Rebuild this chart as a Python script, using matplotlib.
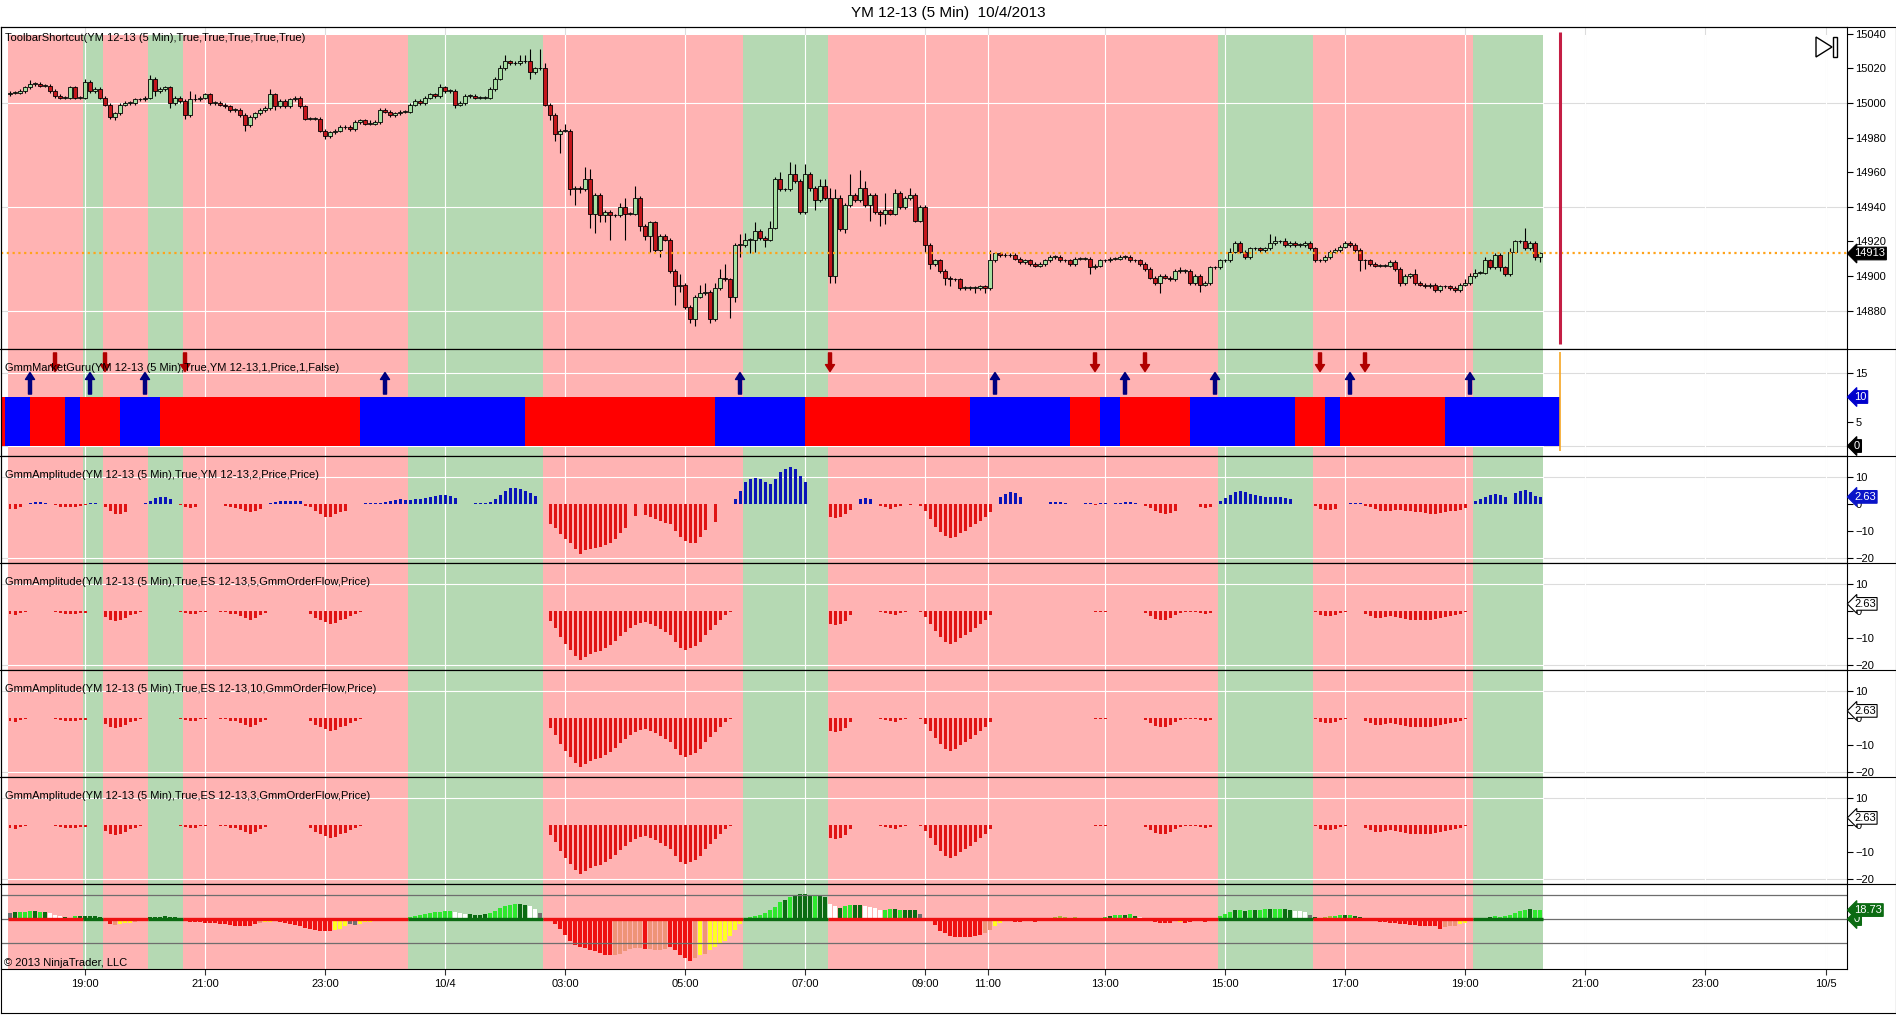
import numpy as np
import matplotlib
matplotlib.use("Agg")
import matplotlib.pyplot as plt
from matplotlib.patches import Polygon, Rectangle
from matplotlib.lines import Line2D
import matplotlib.transforms as mtransforms

plt.rcParams['font.family'] = ['Liberation Sans', 'DejaVu Sans']
plt.rcParams['font.size'] = 8

W, H = 1896, 1015
FIRST = -15          # bar index of first candle (bar 0 = 19:00 on 10/3)

# ---- YM 12-13 5 min closes, one per bar ----
closes = [
    15006, 15006, 15007, 15009, 15011, 15011, 15010, 15010, 15007, 15004,   # -15
    15003, 15003, 15009, 15003, 15003, 15012, 15007, 15008, 15003, 14999,   # -5
    14992, 14994, 14999, 15000, 15000, 15002, 15002, 15003, 15014, 15007,   # 5
    15008, 15009, 15000, 15003, 15001, 14993, 15002, 15002, 15003, 15005,   # 15
    15000, 15000, 14999, 14998, 14996, 14996, 14993, 14987, 14992, 14994,   # 25
    14996, 14997, 15005, 14998, 15001, 14998, 15002, 15003, 14998, 14991,   # 35
    14991, 14991, 14984, 14981, 14983, 14984, 14986, 14986, 14985, 14989,   # 45
    14990, 14988, 14988, 14989, 14996, 14995, 14993, 14994, 14995, 14995,   # 55
    14999, 15001, 15000, 15003, 15005, 15004, 15009, 15007, 15007, 14999,   # 65
    15000, 15004, 15004, 15003, 15003, 15003, 15008, 15014, 15020, 15024,   # 75
    15023, 15023, 15024, 15024, 15018, 15020, 15020, 14999, 14993, 14982,   # 85
    14984, 14984, 14950, 14951, 14950, 14956, 14936, 14947, 14935, 14937,   # 95
    14935, 14935, 14940, 14936, 14936, 14945, 14929, 14923, 14931, 14915,   # 105
    14923, 14921, 14903, 14894, 14895, 14882, 14875, 14888, 14890, 14891,   # 115
    14875, 14893, 14899, 14898, 14888, 14918, 14918, 14921, 14921, 14926,   # 125
    14922, 14921, 14928, 14956, 14950, 14950, 14959, 14955, 14937, 14959,   # 135
    14951, 14944, 14952, 14945, 14900, 14945, 14927, 14941, 14947, 14944,   # 145
    14951, 14941, 14947, 14937, 14936, 14938, 14936, 14948, 14940, 14945,   # 155
    14947, 14932, 14940, 14918, 14907, 14909, 14903, 14899, 14898, 14898,   # 165
    14893, 14893, 14893, 14893, 14894, 14893, 14909, 14913, 14912, 14912,   # 175
    14912, 14910, 14908, 14909, 14907, 14906, 14907, 14909, 14911, 14911,   # 185
    14909, 14909, 14907, 14910, 14910, 14910, 14905, 14906, 14909, 14909,   # 195
    14910, 14910, 14911, 14911, 14909, 14909, 14907, 14904, 14899, 14896,   # 205
    14900, 14899, 14898, 14903, 14903, 14903, 14896, 14900, 14895, 14896,   # 215
    14905, 14905, 14909, 14909, 14914, 14919, 14914, 14911, 14916, 14916,   # 225
    14915, 14916, 14919, 14920, 14920, 14918, 14919, 14918, 14918, 14919,   # 235
    14916, 14909, 14909, 14911, 14914, 14915, 14917, 14919, 14918, 14915,   # 245
    14909, 14909, 14907, 14906, 14906, 14906, 14908, 14904, 14896, 14900,   # 255
    14901, 14896, 14895, 14894, 14895, 14892, 14894, 14894, 14893, 14892,   # 265
    14895, 14896, 14900, 14902, 14902, 14909, 14905, 14912, 14905, 14901,   # 275
    14914, 14920, 14920, 14916, 14919, 14911, 14913,                        # 285
]
first_open = 15005
# wick length above / below the body, in points
wick_hi = [
    1, 1, 1, 1, 2, 1, 1, 1, 1, 1,  1, 1, 1, 1, 1, 2, 1, 1, 1, 1,
    1, 1, 1, 1, 1, 1, 1, 1, 2, 1,  1, 1, 1, 1, 1, 1, 5, 3, 1, 1,
    1, 1, 1, 1, 1, 1, 1, 1, 1, 1,  1, 1, 3, 1, 1, 1, 1, 1, 1, 1,
    1, 1, 1, 1, 1, 1, 1, 1, 1, 1,  1, 1, 2, 1, 1, 1, 1, 1, 1, 1,
    1, 1, 1, 1, 1, 1, 2, 1, 1, 1,  1, 1, 1, 1, 1, 1, 1, 1, 2, 4,
    1, 1, 4, 4, 7, 1, 11, 3, 1, 1, 1, 4, 1, 1, 1, 7, 6, 1, 1, 1,
    1, 1, 2, 5, 1, 7, 1, 1, 1, 1,  1, 1, 1, 1, 6, 1, 1, 1, 5, 5,
    1, 3, 5, 8, 1, 1, 6, 4, 1, 5,  1, 1, 4, 1, 4, 1, 7, 6, 1, 6,
    1, 1, 4, 4, 6, 5, 2, 1, 12, 1, 10, 4, 1, 1, 1, 10, 1, 2, 1, 1,
    4, 1, 1, 1, 1, 1, 1, 1, 1, 1,  1, 1, 1, 1, 1, 1, 6, 1, 1, 1,
    1, 1, 1, 1, 1, 1, 1, 1, 1, 1,  1, 1, 1, 1, 1, 1, 1, 1, 1, 1,
    1, 1, 1, 1, 1, 1, 1, 1, 1, 1,  1, 1, 1, 1, 2, 1, 1, 1, 1, 1,
    1, 1, 1, 1, 2, 1, 1, 1, 1, 1,  1, 1, 5, 3, 1, 2, 1, 1, 1, 1,
    1, 1, 1, 1, 1, 1, 1, 1, 1, 1,  1, 1, 1, 1, 1, 1, 1, 1, 1, 1,
    1, 3, 1, 1, 1, 1, 1, 1, 1, 1,  1, 2, 2, 2, 1, 2, 1, 1, 1, 1,
    2, 1, 1, 8, 1, 1, 1,
]
wick_lo = [
    1, 1, 1, 1, 1, 1, 1, 1, 1, 1,  1, 1, 1, 1, 1, 1, 1, 1, 1, 1,
    1, 2, 1, 1, 1, 1, 1, 1, 1, 3,  1, 1, 3, 1, 1, 2, 1, 1, 1, 1,
    1, 1, 1, 1, 1, 1, 1, 3, 1, 1,  1, 1, 1, 2, 1, 1, 1, 1, 1, 1,
    1, 1, 1, 2, 1, 1, 1, 1, 1, 1,  1, 1, 1, 1, 1, 1, 1, 1, 1, 1,
    1, 1, 1, 1, 1, 1, 1, 1, 1, 2,  1, 1, 1, 1, 1, 1, 1, 1, 1, 1,
    1, 1, 1, 1, 4, 1, 1, 1, 3, 4,  11, 1, 3, 9, 2, 1, 8, 11, 4, 4,
    14, 1, 1, 15, 1, 1, 3, 2, 9, 2, 4, 1, 1, 11, 3, 1, 2, 4, 1, 1,
    2, 1, 1, 1, 12, 3, 7, 1, 8, 7, 1, 4, 1, 1, 1, 1, 1, 1, 1, 1,
    2, 6, 1, 1, 4, 4, 1, 2, 1, 1,  1, 1, 9, 1, 7, 6, 1, 1, 1, 1,
    1, 1, 1, 4, 3, 1, 1, 4, 4, 1,  1, 1, 1, 3, 1, 3, 1, 1, 1, 1,
    1, 1, 1, 1, 1, 1, 1, 1, 1, 1,  1, 1, 1, 1, 1, 1, 4, 1, 1, 1,
    1, 1, 1, 1, 1, 1, 1, 1, 1, 1,  6, 1, 1, 1, 1, 1, 1, 1, 4, 1,
    1, 1, 1, 1, 1, 1, 1, 1, 1, 1,  1, 1, 1, 1, 1, 1, 1, 1, 1, 1,
    1, 1, 1, 1, 1, 1, 1, 1, 1, 1,  6, 5, 1, 1, 1, 1, 1, 1, 2, 1,
    1, 1, 1, 1, 1, 1, 1, 1, 1, 1,  1, 1, 1, 1, 1, 1, 1, 1, 2, 1,
    1, 1, 1, 1, 1, 2, 3,
]
last_price = 14913

# ---- time axis ----
time_ticks = [0, 24, 48, 72, 96, 120, 144, 168, 180.5, 204, 228, 252, 276, 300, 324, 348.2]
time_labels = ['19:00', '21:00', '23:00', '10/4', '03:00', '05:00', '07:00', '09:00',
               '11:00', '13:00', '15:00', '17:00', '19:00', '21:00', '23:00', '10/5']

# ---- background regimes (ToolbarShortcut colouring) ----
session_edges = [-15.5, -0.5, 3.5, 12.5, 19.5, 64.5, 91.5, 131.5, 148.5, 226.5, 245.5, 277.5, 291.5]
session_kind = 'rgrgrgrgrgrg'

# ---- GmmMarketGuru ----
guru_edges = [-17, -16, -11, -4, -1, 7, 15, 55, 88, 126, 144, 177, 197, 203, 207,
              221, 242, 248, 251, 272, 295]
guru_kind = 'rbrbrbrbrbrbrbrbrbrb'
guru_up = [-11, 1, 12, 60, 131, 182, 208, 226, 253, 277]
guru_down = [-6, 4, 20, 149, 202, 212, 247, 256]
guru_level = 10
cursor_bar = 295

# ---- GmmAmplitude YM (start bar, values) ----
amp_ym = [
    (-15, [-2, -2, -1]),
    (-11, [0.4, 0.6, 0.6, 0.4]),
    (-6, [-0.5, -1, -1, -1.2, -1, -0.8, -0.4]),
    (1, [0.4, 0.4]),
    (4, [-1.2, -2.5, -3.7, -3.7, -2.8]),
    (12, [0.4, 1.2, 2.2, 2.5, 2.5, 1.8]),
    (19, [-0.5, -1.2, -1.5, -1.2]),
    (28, [-0.6, -1.2, -1.5, -1.9, -2.5, -3.1, -2.5, -1.9]),
    (37, [0.4, 0.8, 1, 1.2, 1.2, 1.2, 1.2]),
    (44, [-0.6, -1.2, -2.5, -3.7, -4.7, -4.7, -3.7, -3.1, -2.5]),
    (56, [0.4, 0.4, 0.4, 0.5, 0.8, 1.2, 1.5, 1.7, 1.6, 1.4, 1.7, 1.9, 2.2, 2.6, 3.0, 3.2, 3.2, 2.8, 2.1]),
    (78, [0.4, 0.4, 0.4, 0.6, 1.9, 3.5, 4.9, 5.9, 5.9, 5.6, 4.9, 4.0, 3.1]),
    (93, [-7.4, -9, -11.1, -12.9, -14.6, -16.7, -18.5, -17.2, -16.8, -16.3, -15.8, -15.3,
          -14.4, -12.9, -10.9, -8.9]),
    (110, [-4.3]),
    (112, [-4, -4.7, -5.7, -6.4, -6.9, -7.4, -9.9, -12.3, -13.7, -14.3, -14.3, -12.3, -9.6]),
    (126, [-6.8]),
    (130, [1.9, 4.9, 8, 9.3, 9.6, 9.3, 8, 7.4, 9.3, 11.7, 13, 13.6, 13, 10.5, 8]),
    (149, [-4.9, -5.3, -4.7, -3.7, -2.2]),
    (155, [1.9, 2.2, 1.9]),
    (159, [-0.6, -1.2, -1.9, -1.2, -0.6]),
    (165, [-0.4]),
    (167, [-0.6, -2.5, -5.6, -8.6, -10.5, -11.7, -12.6, -12.1, -10.9, -9.9, -8.6, -7.4,
           -6.2, -4.7, -3.1]),
    (183, [2.5, 3.7, 4.3, 4.0, 2.7]),
    (193, [0.6, 0.9, 0.6, 0.5]),
    (200, [0.4, 0.4, -0.4, 0.4, 0.4]),
    (206, [0.4, 0.4, 0.6, 0.6, 0.4]),
    (212, [-0.6, -1.5, -2.5, -3.5, -3.7, -3.5, -2.5]),
    (223, [-1.2, -1.5, -1.2]),
    (227, [1.2, 2.2, 3.5, 4.3, 4.9, 4.3, 3.7, 3.5, 3.1, 2.7, 2.7, 2.5, 2.7, 2.2, 1.9]),
    (246, [-0.6, -1.9, -2.2, -2.2, -1.9]),
    (253, [0.4, 0.4, 0.4]),
    (256, [-0.6, -1.2, -1.9, -2.5, -2.7, -2.5, -2.2, -2.2, -2.5, -2.7, -3.1, -3.1, -3.5,
           -3.7, -3.7, -3.5, -3.1, -2.7, -2.5, -2.2, -1.5]),
    (278, [1.2, 1.9, 2.7, 3.5, 3.7, 3.5, 2.7]),
    (286, [3.9, 4.9, 5.2, 4.3, 3.1, 2.63]),
]
last_amp = 2.63

# ---- GmmAmplitude ES order flow (same picture for the 5 / 10 / 3 panels) ----
amp_es = [
    (-15, [-1.2, -1.6, -0.7, -0.4]),
    (-6, [-0.4, -0.8, -1, -1, -1, -0.8, -0.9]),
    (4, [-2.2, -3.5, -3.7, -3.2, -2.5, -1.6, -1, -0.4]),
    (19, [-0.4, -0.7, -1.2, -1, -0.4, -0.4]),
    (27, [-0.4, -0.4, -1, -1.2, -2, -2.5, -3.2, -2.5, -1.6, -0.7]),
    (45, [-1.2, -2.5, -3.5, -4.1, -4.7, -4.4, -3.5, -2.8, -2, -1, -0.4]),
    (93, [-3.7, -6.5, -9.6, -12.3, -14.6, -16.8, -18.3, -17.2, -16, -15.4, -14.8, -13.8,
          -12.7, -11.1, -9.4, -7.8, -6.4, -5.2, -4.3, -4.1, -4.7, -5.7, -6.7, -7.9, -9,
          -11.5, -13.6, -14.3, -13.9, -13.1, -11.5, -9, -6.9, -5.3, -3.5, -1.6, -0.4]),
    (149, [-4.7, -5.1, -4.7, -3.7, -1.6]),
    (159, [-0.4, -0.7, -1.2, -1.6, -0.7, -0.4]),
    (167, [-0.4, -2.2, -4.7, -7.4, -9.6, -11.5, -12.3, -11.5, -10.2, -9, -7.8, -6.2,
           -4.7, -3.2, -1.6]),
    (202, [-0.4, -0.4, -0.4]),
    (212, [-0.7, -2, -2.8, -3.5, -3.5, -2.5, -1.6, -0.7, -0.4, -0.4, -0.4, -0.7, -1, -0.7]),
    (246, [-0.4, -1.6, -2, -2, -1.6, -0.7, -0.4]),
    (256, [-1, -2, -2.5, -2.5, -2.2, -2, -2.2, -2.5, -2.8, -3.2, -3.5, -3.5, -3.5, -3.2,
           -2.8, -2.5, -2.2, -2, -1.6, -1, -0.4]),
]
es_labels = ['GmmAmplitude(YM 12-13 (5 Min),True,ES 12-13,5,GmmOrderFlow,Price)',
             'GmmAmplitude(YM 12-13 (5 Min),True,ES 12-13,10,GmmOrderFlow,Price)',
             'GmmAmplitude(YM 12-13 (5 Min),True,ES 12-13,3,GmmOrderFlow,Price)']

# ---- bottom oscillator, one value per bar from bar -15, with colour codes ----
osc_vals = [
    12, 14, 15, 15, 17, 17, 15, 14, 12, 9, 7,
    5, 3, 7, 6,
    6, 6, 6, 5,
    -5, -11, -13, -11, -9, -8, -7, -5, -3,
    4, 5, 5, 6, 5, 4, 3,
    -5, -6, -7, -7, -8, -8, -9, -10, -11, -12,
    -14, -15, -15, -14, -10,
    -8, -7, -7, -5,
    -7, -8, -10, -13, -15, -18, -20,
    -23, -25, -25, -24,
    -22, -20, -15,
    -10,
    -12, -10, -7, -6, -5, -5, -3, -3, -2, -1, -1,
    5, 7, 9, 11, 13, 14, 15, 16, 16, 15, 13, 11, 10, 9, 9, 10, 12, 17, 22, 27, 30, 31, 31,
    30, 28, 20, 12,
    -2, -5, -10, -20, -33, -45, -53, -58, -61, -64, -67, -71, -74, -75, -74, -72, -66, -62,
    -60, -61, -62, -63, -65, -65, -62, -59, -65, -75, -81, -88, -82, -75, -72, -65, -58,
    -50, -45, -35, -22, -10,
    1, 4, 6, 9, 12, 18, 25, 35, 40, 46, 50, 52, 52, 51, 49, 47, 45,
    32, 28, 24, 28, 29, 30, 30, 28, 25, 22, 18, 18, 20, 20, 18, 19, 18, 18, 10,
    2, -5, -12, -25, -30, -35, -38, -38, -38, -38, -36, -33, -28, -22, -15, -8,
    -3, -4, -6, -6, -5, -5, -6, -4, -2,
    3, 5, 6, 4, 3, 4, 2, 2, 3, 2,
    3, 5, 7, 8, 9, 9, 10, 7, 4,
    -2, -5, -7, -8, -9, -8, -5, -7, -8, -6, -5, -5, -6, -5, -3,
    7, 11, 15, 18, 18, 17, 18, 18, 19, 20, 20, 20, 20, 20, 18, 16, 16, 14, 8,
    4, 3, 5, 6, 7, 8, 8, 9, 7, 4, 2,
    -2, -4, -6, -7, -8, -9, -10, -11, -12, -13, -14, -14, -15, -15, -20, -16, -15, -14,
    -10, -8, -5, -3,
    -2, 2, 4, 6, 5, 7, 9, 12, 16, 19, 20, 19, 18.73,
]
osc_codes = ("kdgggdgdwww" "dkgd" "dddd" "rrsyyysyk" "ddddddd" "rrrrrrrrrr" "rrrrr"
             "syys" "rrrrrrr" "rrrr" "yyy" "k" "kyyysyrrrrr"
             "gggggggggwwwddddggggggddwwk"
             "rrrrrrrrrrrrrrssssssrssssrrrrrsysyyyyyyy"
             "ygggggggdgddddgdd" "wwdggddwwwwggdgdddk" "rrrrrrrrrrrrssyy" "rrrrrrrrr"
             "oooooooooo" "dgdggdgdw" "rrrrrrsyrrrrrrr" "gggdgdgdggdggddwwwk"
             "doooggdgddd" "rrrrrrrrrrrrrrrsssyyyr" "dddgggggggdgg")
last_osc = 18.73

# ---------------------------------------------------------------------------
PINK, GREEN = '#FFB3B3', '#B5D9B3'
osc_colors = {'g': '#2EE82E', 'd': '#0B6B12', 'w': '#FFFFFF', 'r': '#EE1111',
              's': '#EE9478', 'y': '#FFFF22', 'o': '#A2C23C', 'k': '#707070'}


def px2bar(px):
    return (px - 85) / 5.0


XL = (px2bar(1), px2bar(1847))
fig = plt.figure(figsize=(W / 100, H / 100), dpi=100)
bounds = [(27, 349), (349, 456), (456, 563), (563, 670), (670, 777), (777, 884), (884, 969)]
axs = []
for top, bot in bounds:
    ax = fig.add_axes([1 / W, 1 - bot / H, 1846 / W, (bot - top) / H])
    ax.set_xlim(*XL)
    ax.set_xticks([])
    ax.tick_params(axis='y', left=False, right=True, labelleft=False, labelright=True,
                   direction='out', length=4, width=0.8, pad=2, labelsize=8)
    for s in ax.spines.values():
        s.set_color('black')
        s.set_linewidth(0.8)
    axs.append(ax)

sx0 = (session_edges[0] - XL[0]) / (XL[1] - XL[0])
sx1 = (session_edges[-1] - XL[0]) / (XL[1] - XL[0])


def background(ax, ymax=1.0, hgrid=()):
    for i, k in enumerate(session_kind):
        ax.axvspan(session_edges[i], session_edges[i + 1], ymin=0, ymax=ymax,
                   color=PINK if k == 'r' else GREEN, lw=0, zorder=0.5)
    for t in time_ticks:
        ax.axvline(t, color='#DCDCDC', lw=0.8, zorder=0.2)
        ax.axvline(t, ymax=ymax, color='white', lw=0.8, zorder=0.8)
    for v in hgrid:
        ax.axhline(v, color='#DCDCDC', lw=0.8, zorder=0.2)
        ax.axhline(v, xmin=sx0, xmax=sx1, color='white', lw=0.8, zorder=0.8)


def label(ax, top, bot, text, dy=19):
    ax.text(4 / 1846, (bot - (top + dy)) / (bot - top), text, transform=ax.transAxes,
            ha='left', va='center', fontsize=8, zorder=8)


def tag(ax, y, text, fc, tc='white', ec=None):
    tr = mtransforms.blended_transform_factory(ax.transAxes, ax.transData)
    ax.text(1 + 7 / 1846, y, text, transform=tr, ha='left', va='center', fontsize=8,
            color=tc, clip_on=False, zorder=12,
            bbox=dict(boxstyle='larrow,pad=0.12', fc=fc, ec=ec or fc, lw=0.8))


def runs_to_bars(runs):
    xs, vs = [], []
    for start, vals in runs:
        for j, v in enumerate(vals):
            xs.append(start + j)
            vs.append(v)
    return np.array(xs), np.array(vs, dtype=float)


# ---- price panel ----
ax = axs[0]
ax.set_ylim(14857.8, 15043.9)
ax.set_yticks(range(14880, 15041, 20))
top_frac = (349 - 35) / 322
background(ax, ymax=top_frac, hgrid=(15000, 14940, 14880))
c = np.array(closes, dtype=float)
o = np.concatenate([[first_open], c[:-1]])
x = FIRST + np.arange(len(c))
n = min(len(c), len(wick_hi), len(wick_lo))
hi = np.maximum(o, c)[:n] + np.array(wick_hi[:n])
lo = np.minimum(o, c)[:n] - np.array(wick_lo[:n])
ax.vlines(x[:n], lo, hi, color='black', lw=0.8, zorder=2.5)
up = c >= o
ax.bar(x, np.maximum(np.abs(c - o), 0.35), bottom=np.minimum(o, c), width=0.72,
       color=np.where(up, '#A6E0A2', '#C3161C'), edgecolor='black', linewidth=0.6, zorder=3)
ax.axhline(last_price, color='#FFA31A', lw=1.6, ls=(0, (1, 1.6)), zorder=4)
ax.vlines(cursor_bar, 14860.7, 15041, color='#C41E44', lw=2.2, zorder=4)
label(ax, 27, 349, 'ToolbarShortcut(YM 12-13 (5 Min),True,True,True,True,True)', dy=11)
tag(ax, last_price, str(last_price), 'black')

# ---- market guru ----
ax = axs[1]
ax.set_ylim(-2.04, 19.8)
ax.set_yticks([5, 15])
background(ax, hgrid=(15, 0))
for i, k in enumerate(guru_kind):
    a, b = guru_edges[i], guru_edges[i + 1]
    ax.bar(a, guru_level, width=b - a, bottom=0, align='edge',
           color='#FF0000' if k == 'r' else '#0000FF', lw=0, zorder=2)
for b in guru_up:
    ax.annotate('', xy=(b, 15.0), xytext=(b, 10.6), zorder=5,
                arrowprops=dict(facecolor='#000080', edgecolor='#000080', width=2.2,
                                headwidth=6.5, headlength=5, shrink=0))
for b in guru_down:
    ax.annotate('', xy=(b, 15.2), xytext=(b, 19.0), zorder=5,
                arrowprops=dict(facecolor='#B00000', edgecolor='#B00000', width=2.2,
                                headwidth=6.5, headlength=5, shrink=0))
ax.vlines(cursor_bar, -1.0, 19.2, color='#F5A623', lw=1.2, zorder=4)
label(ax, 349, 456, 'GmmMarketGuru(YM 12-13 (5 Min),True,YM 12-13,1,Price,1,False)')
tag(ax, guru_level, '10', '#0000CC')
tag(ax, 0, '0', 'black')

# ---- amplitude panels ----
amp_axes = [(axs[2], amp_ym, 'GmmAmplitude(YM 12-13 (5 Min),True,YM 12-13,2,Price,Price)', 456)]
for k in range(3):
    amp_axes.append((axs[3 + k], amp_es, es_labels[k], 563 + 107 * k))
for i, (ax, runs, text, top) in enumerate(amp_axes):
    ax.set_ylim(-21.9, 17.8)
    ax.set_yticks([10, 0, -10, -20])
    background(ax, hgrid=(10, -20))
    xs, vs = runs_to_bars(runs)
    ax.bar(xs, vs, width=0.6, color=np.where(vs > 0, '#0A14B8', '#E01414'), lw=0, zorder=3)
    label(ax, top, top + 107, text)
    if i == 0:
        tag(ax, last_amp, '%.2f' % last_amp, '#0A14C8')
    else:
        tag(ax, last_amp, '%.2f' % last_amp, 'white', tc='black', ec='black')

# ---- bottom oscillator ----
ax = axs[6]
ax.set_ylim(-104, 73)
ax.set_yticks([])
ax.tick_params(axis='y', right=False, labelright=False)
background(ax)
ov = np.array(osc_vals, dtype=float)
ox = FIRST + np.arange(len(ov))
cols = [osc_colors.get(osc_codes[i], '#EE1111') if i < len(osc_codes) else '#EE1111'
        for i in range(len(ov))]
ax.bar(ox, ov, width=0.62, color=cols, lw=0, zorder=2)
for v in (50, 0, -50):
    ax.axhline(v, color='#6E6E6E', lw=0.9, zorder=2.5)
for i, k in enumerate(session_kind):
    ax.hlines(0, session_edges[i], session_edges[i + 1], lw=2.4, zorder=3,
              color='#EE1111' if k == 'r' else '#0B6B12')
ax.set_xticks(time_ticks)
ax.set_xticklabels(time_labels)
ax.tick_params(axis='x', direction='out', length=4, width=0.8, color='#333333', pad=3,
               labelsize=8)
ax.text(3 / 1846, (969 - 963) / 85, '\u00a9 2013 NinjaTrader, LLC', transform=ax.transAxes,
        ha='left', va='center', fontsize=8, zorder=8)
tag(ax, 0, '0', '#0B6B12')
tag(ax, last_osc, '%.2f' % last_osc, '#0B6B12')

# ---- frame, separators, title, icon ----


def fline(x0, y0, x1, y1, lw=0.8):
    fig.add_artist(Line2D([x0 / W, x1 / W], [1 - y0 / H, 1 - y1 / H], color='black',
                          lw=lw, transform=fig.transFigure))


fline(0.5, 27, 1895.5, 27)
fline(0.5, 1013, 1895.5, 1013)
fline(0.5, 27, 0.5, 1013)
fline(1895.5, 27, 1895.5, 1013)
for yy in (349, 456, 563, 670, 777, 884):
    fline(0, yy, 1895.5, yy)

fig.text(948 / W, 1 - 13 / H, 'YM 12-13 (5 Min)  10/4/2013', ha='center', va='center',
         fontsize=11)
tri = [(1816 / W, 1 - 37 / H), (1832 / W, 1 - 47 / H), (1816 / W, 1 - 57 / H)]
fig.add_artist(Polygon(tri, closed=True, fill=False, ec='black', lw=1.0,
                       transform=fig.transFigure))
fig.add_artist(Rectangle((1833 / W, 1 - 57 / H), 4 / W, 20 / H, fill=False, ec='black',
                         lw=1.0, transform=fig.transFigure))

fig.savefig('out.png', dpi=100)
